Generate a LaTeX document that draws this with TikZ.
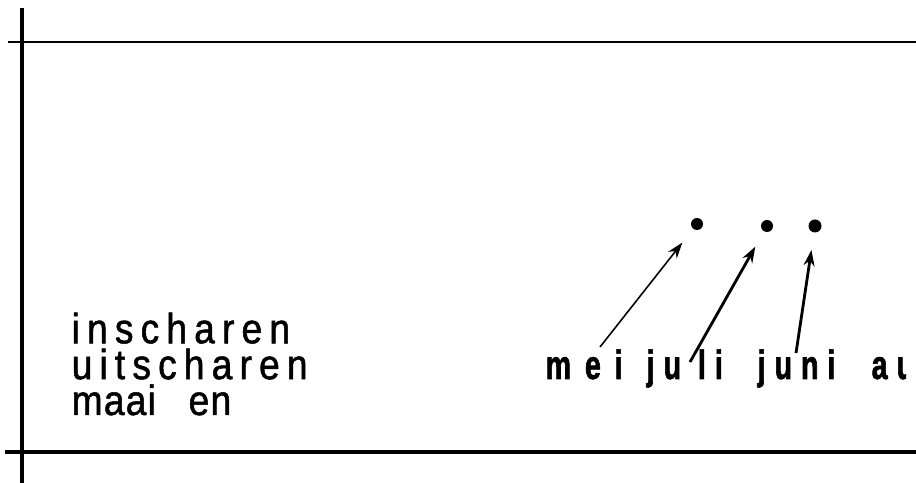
\documentclass[tikz,border=0pt]{standalone}
\usepackage{fontspec}
\usetikzlibrary{arrows.meta}
\newfontfamily\linksfont{Liberation Sans}[FakeStretch=0.88,LetterSpace=17,FakeBold=1.2]
\newfontfamily\maandfont{Liberation Sans Bold}[FakeStretch=0.7,LetterSpace=22,FakeBold=1.5]
\begin{document}
\begin{tikzpicture}[x=0.01cm,y=-0.01cm,
  links/.style={anchor=base west,inner sep=0pt,align=left,font=\linksfont\fontsize{12}{10.2}\selectfont},
  maand/.style={anchor=base west,inner sep=0pt,font=\maandfont\fontsize{11.6}{10}\selectfont},
  stip/.style={circle,fill,inner sep=0pt,minimum size=0.12cm},
  pijl/.style={-{Stealth[length=0.16cm,width=0.11cm]},shorten >=0.17cm}]
\useasboundingbox (0,0) rectangle (916,483);
\clip (0,0) rectangle (916,483);
\draw[line width=1.1pt] (22,8) -- (22,483);
\draw[line width=0.75pt] (8,42) -- (916,42);
\draw[line width=0.95pt] (5,452) -- (916,452);
\node[links] (werk) at (71,415) {inscharen\\uitscharen\\\addfontfeature{LetterSpace=3}maai \hspace{6pt}en};
\node[maand] (mei) at (545,379) {\addfontfeature{LetterSpace=34}mei};
\node[maand] (juli) at (646,379) {ju li};
\node[maand] (juni) at (757,379) {juni};
\begin{scope}
\clip (860,340) rectangle (906,400);
\node[maand] (aug) at (871,379) {au};
\end{scope}
\node[stip] (smei) at (697,224) {};
\node[stip] (sjuli) at (767,226) {};
\node[stip,minimum size=0.13cm] (sjuni) at (815,226) {};
\coordinate (tmei) at (600,347);
\coordinate (tjuli) at (690,362);
\coordinate (tjuni) at (796,353);
\draw[pijl,line width=0.45pt] (tmei) -- (smei);
\draw[pijl,line width=0.8pt] (tjuli) -- (sjuli);
\draw[pijl,line width=0.8pt] (tjuni) -- (sjuni);
\end{tikzpicture}
\end{document}
